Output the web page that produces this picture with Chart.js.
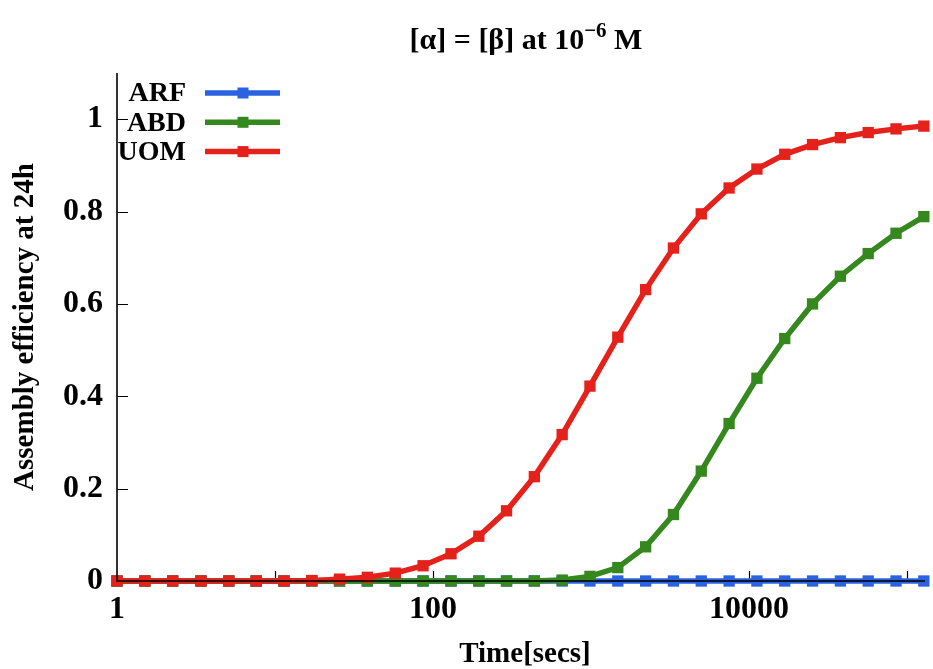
<!DOCTYPE html>
<html>
<head>
<meta charset="utf-8">
<script src="https://cdn.jsdelivr.net/npm/chart.js@4/dist/chart.umd.min.js"></script>
<style>
  html, body { margin: 0; padding: 0; background: #ffffff; }
  #wrap { width: 933px; height: 669px; }
</style>
</head>
<body>
<div id="wrap"><canvas id="c" width="933" height="669"></canvas></div>
<script>
// Sampling times in seconds (log-spaced, factor 1.5)
const times = [1, 1.5, 2.25, 3.4, 5.1, 7.6, 11.4, 17.1, 25.6, 38.4, 57.7, 86.5,
  130, 195, 292, 438, 657, 985, 1478, 2217, 3325, 4988, 7482, 11223, 16834,
  25251, 37877, 56815, 85223, 127834];

// Assembly efficiency at 24h for each scheme
const arf = [0, 0, 0, 0, 0, 0, 0, 0, 0, 0, 0, 0, 0, 0, 0, 0, 0, 0, 0, 0, 0,
  0, 0, 0, 0, 0, 0, 0, 0, 0];
const abd = [0, 0, 0, 0, 0, 0, 0, 0, 0, 0, 0, 0, 0, 0, 0, 0, 0.002, 0.010,
  0.029, 0.074, 0.144, 0.238, 0.341, 0.439, 0.525, 0.600, 0.660, 0.709, 0.753, 0.789];
const uom = [0, 0, 0, 0, 0, 0, 0, 0.001, 0.004, 0.008, 0.017, 0.033, 0.059,
  0.097, 0.152, 0.226, 0.317, 0.422, 0.528, 0.631, 0.721, 0.795, 0.851, 0.892,
  0.924, 0.945, 0.960, 0.971, 0.979, 0.985];

const seriesNames = ['ARF', 'ABD', 'UOM'];
const xTicks = [1, 10, 100, 1000, 10000, 100000];
const xTickLabels = { 1: '1', 100: '100', 10000: '10000' };
const yTicks = [0, 0.2, 0.4, 0.6, 0.8, 1];

const titleMain = '[\u03b1] = [\u03b2] at 10';
const titleSup = '\u22126';
const titleEnd = ' M';
const xTitle = 'Time[secs]';
const yTitle = 'Assembly efficiency at 24h';

const FONT = '"Liberation Serif", "Times New Roman", serif';
const colors = ['#2a62e0', '#34881e', '#e5211b'];

function pts(vals) { return vals.map((v, i) => ({ x: times[i], y: v })); }

function ds(i, vals, order) {
  return {
    label: seriesNames[i],
    data: pts(vals),
    borderColor: colors[i],
    backgroundColor: colors[i],
    borderWidth: 5.5,
    pointStyle: 'rect',
    pointRadius: 8,
    pointHoverRadius: 8,
    pointBorderWidth: 0,
    tension: 0,
    clip: false,
    order: order
  };
}

// Inward tick marks, drawn beneath the curves
const tickMarks = {
  id: 'tickMarks',
  beforeDatasetsDraw(chart) {
    const { ctx, chartArea: a, scales: { x, y } } = chart;
    ctx.save();
    ctx.strokeStyle = '#000';
    ctx.lineWidth = 1.2;
    ctx.beginPath();
    xTicks.forEach(v => {
      const px = Math.round(x.getPixelForValue(v)) + 0.5;
      if (px > a.left + 2 && px < a.right) {
        ctx.moveTo(px, a.bottom);
        ctx.lineTo(px, a.bottom - 10);
      }
    });
    yTicks.forEach(v => {
      if (v === 0) return;
      const py = Math.round(y.getPixelForValue(v)) + 0.5;
      ctx.moveTo(a.left, py);
      ctx.lineTo(a.left + 11, py);
    });
    ctx.stroke();
    ctx.restore();
  }
};

// Axis lines, titles and the key, drawn over the curves
const overlay = {
  id: 'overlay',
  afterDatasetsDraw(chart) {
    const { ctx, chartArea: a } = chart;
    ctx.save();
    ctx.strokeStyle = '#000';
    ctx.lineWidth = 1.6;
    ctx.beginPath();
    ctx.moveTo(a.left, a.top);
    ctx.lineTo(a.left, a.bottom);
    ctx.lineTo(a.right, a.bottom);
    ctx.stroke();

    ctx.fillStyle = '#000';
    // chart title with superscript exponent
    const big = 'bold 30px ' + FONT, small = 'bold 21px ' + FONT;
    ctx.font = big;
    const w1 = ctx.measureText(titleMain).width;
    const w3 = ctx.measureText(titleEnd).width;
    ctx.font = small;
    const w2 = ctx.measureText(titleSup).width;
    const cx = 526;
    let tx = cx - (w1 + w2 + w3) / 2;
    ctx.textBaseline = 'alphabetic';
    ctx.textAlign = 'left';
    ctx.font = big;
    ctx.fillText(titleMain, tx, 49);
    tx += w1;
    ctx.font = small;
    ctx.fillText(titleSup, tx, 37);
    tx += w2;
    ctx.font = big;
    ctx.fillText(titleEnd, tx, 49);

    // axis titles
    ctx.font = 'bold 29px ' + FONT;
    ctx.textAlign = 'center';
    ctx.textBaseline = 'middle';
    ctx.fillText(xTitle, 525, 655);
    ctx.save();
    ctx.translate(26, 327);
    ctx.rotate(-Math.PI / 2);
    ctx.fillText(yTitle, 0, 0);
    ctx.restore();

    // key
    chart.data.datasets.forEach((d, i) => {
      const ky = 93 + 29.3 * i;
      ctx.font = 'bold 28px ' + FONT;
      ctx.textAlign = 'right';
      ctx.textBaseline = 'middle';
      ctx.fillStyle = '#000';
      ctx.fillText(d.label, 186, ky + 1);
      ctx.strokeStyle = d.borderColor;
      ctx.lineWidth = 5.5;
      ctx.beginPath();
      ctx.moveTo(205, ky);
      ctx.lineTo(280, ky);
      ctx.stroke();
      ctx.fillStyle = d.borderColor;
      ctx.fillRect(243 - 5.5, ky - 5.5, 11, 11);
    });
    ctx.restore();
  }
};

new Chart(document.getElementById('c'), {
  type: 'line',
  data: {
    datasets: [ds(0, arf, 3), ds(1, abd, 2), ds(2, uom, 1)]
  },
  options: {
    responsive: false,
    animation: false,
    events: [],
    layout: { padding: { top: 73, right: 0, left: 0, bottom: 0 } },
    plugins: { legend: { display: false }, title: { display: false }, tooltip: { enabled: false } },
    scales: {
      x: {
        type: 'logarithmic',
        min: 1,
        max: 130000,
        afterBuildTicks(s) { s.ticks = xTicks.map(v => ({ value: v })); },
        afterFit(s) { s.height = 88; },
        grid: { display: false, drawTicks: false },
        border: { display: false },
        ticks: {
          autoSkip: false,
          maxRotation: 0,
          padding: 10,
          color: '#000',
          font: { family: FONT, size: 32, weight: 'bold' },
          callback: v => xTickLabels[v] || ''
        }
      },
      y: {
        type: 'linear',
        min: 0,
        max: 1.1,
        afterBuildTicks(s) { s.ticks = yTicks.map(v => ({ value: v })); },
        afterFit(s) { s.width = 117; },
        grid: { display: false, drawTicks: false },
        border: { display: false },
        ticks: {
          padding: 14,
          color: '#000',
          font: { family: FONT, size: 32, weight: 'bold' },
          callback: v => String(Math.round(v * 10) / 10)
        }
      }
    }
  },
  plugins: [tickMarks, overlay]
});
</script>
</body>
</html>
